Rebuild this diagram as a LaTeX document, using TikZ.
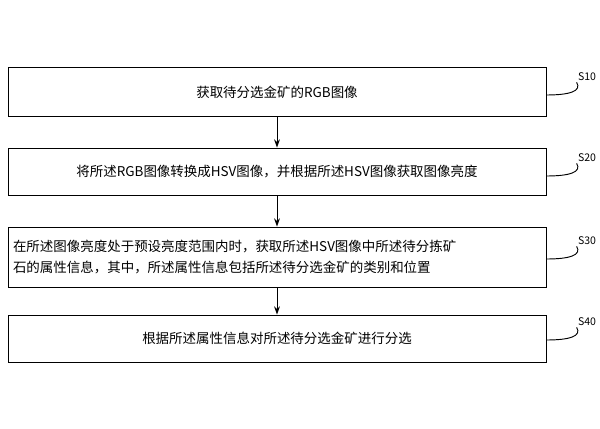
\documentclass[tikz,border=0pt]{standalone}
\usepackage{fontspec}
\setmainfont{Noto Sans CJK SC}
\usetikzlibrary{positioning,arrows.meta}
\tikzset{
  stepbox/.style={draw,thick,minimum width=538*0.03cm,inner sep=0pt,font=\fontsize{11.5}{18}\selectfont},
  flow/.style={-{Stealth[length=7pt,width=5pt]},thick},
  lbl/.style={font=\fontsize{9}{10}\selectfont,inner sep=1pt}
}
\begin{document}
\begin{tikzpicture}[x=0.03cm,y=-0.03cm]
\useasboundingbox (0,0) rectangle (600,429);

%% - Boxes
\node[stepbox,minimum height=49*0.03cm] (s10) at (277,92) {获取待分选金矿的RGB图像};
\node[stepbox,minimum height=47*0.03cm] (s20) at (277,171.5) {将所述RGB图像转换成HSV图像，并根据所述HSV图像获取图像亮度};
\node[stepbox,minimum height=60*0.03cm,text width=528*0.03cm,align=left] (s30) at (277,257)
  {在所述图像亮度处于预设亮度范围内时，获取所述HSV图像中所述待分拣矿\\石的属性信息，其中，所述属性信息包括所述待分选金矿的类别和位置};
\node[stepbox,minimum height=47*0.03cm] (s40) at (277,338.5) {根据所述属性信息对所述待分选金矿进行分选};

%% - Arrows
\draw[flow] (s10) -- (s20);
\draw[flow] (s20) -- (s30);
\draw[flow] (s30) -- (s40);

%% - Step labels
\foreach \n/\t/\y in {s10/S10/77,s20/S20/158,s30/S30/241,s40/S40/322}{
  \node[lbl] (l\n) at (587,\y) {\t};
  \draw[thick] (\n.east |- 0,\y+18) .. controls (570,\y+18) and (582,\y+14) .. (l\n.south west);
}
\end{tikzpicture}
\end{document}
